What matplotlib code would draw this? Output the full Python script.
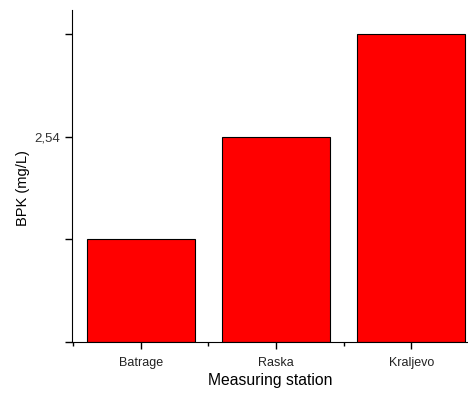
import numpy as np
import matplotlib
matplotlib.use("Agg")
import matplotlib.pyplot as plt
from matplotlib.ticker import FixedLocator

plt.rcParams['font.family'] = ['Liberation Sans', 'DejaVu Sans']

stations = ["Batrage", "Raska", "Kraljevo"]
bpk = [1.27, 2.54, 3.81]
ytick_vals = [0, 1.27, 2.54, 3.81]
ytick_labels = ["", "", "2,54", ""]

fig = plt.figure(figsize=(4.68, 3.94), dpi=100)
ax = fig.add_axes([0.1538, 0.132, 0.846, 0.8426])

x = np.arange(len(stations))
ax.bar(x, bpk, width=0.8, color="#ff0000", edgecolor="black", linewidth=0.8)

ax.set_xlim(-0.51, 2.42)
ax.set_ylim(0, 4.107)
ax.set_xticks(x)
ax.set_xticklabels(stations, fontsize=9, color="#222222")
ax.xaxis.set_minor_locator(FixedLocator([-0.5, 0.5, 1.5]))
ax.set_yticks(ytick_vals)
ax.set_yticklabels(ytick_labels, fontsize=9.5, color="#333333")

ax.spines["top"].set_visible(False)
ax.spines["right"].set_visible(False)
ax.tick_params(axis="both", which="major", direction="out", length=5, width=1)
ax.tick_params(axis="x", which="minor", direction="out", length=3, width=1)
ax.tick_params(axis="x", pad=6)

ax.set_xlabel("Measuring station", fontsize=11.3, labelpad=3)
ax.set_ylabel("BPK (mg/L)", fontsize=10.5)
ax.yaxis.set_label_coords(-0.105, 0.464)

fig.savefig("out.png", dpi=100)
